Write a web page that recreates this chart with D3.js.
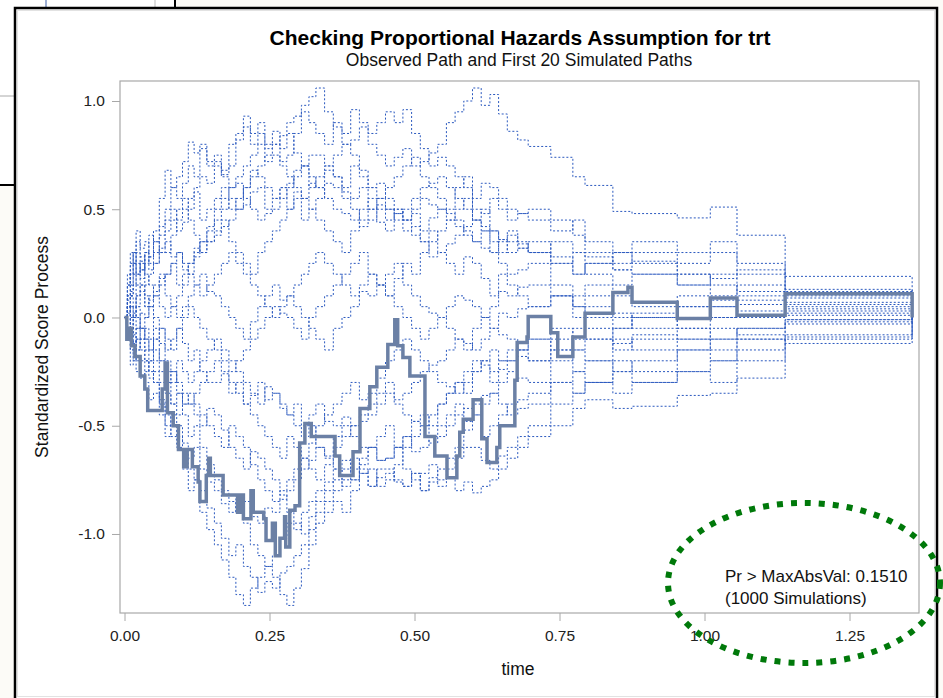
<!DOCTYPE html>
<html>
<head>
<meta charset="utf-8">
<title>PH check trt</title>
<script src="https://cdn.jsdelivr.net/npm/d3@7"></script>
<style>
  body { margin: 0; background: #fff; }
  text { font-family: "Liberation Sans", Arial, sans-serif; }
</style>
</head>
<body>
<script>
// observed score process (step times / values)
const obsTime = [0, 0.004, 0.008, 0.012, 0.018, 0.027, 0.035, 0.040, 0.065, 0.070,
  0.074, 0.084, 0.093, 0.102, 0.108, 0.117, 0.127, 0.130, 0.141, 0.145,
  0.148, 0.170, 0.195, 0.200, 0.205, 0.218, 0.222, 0.240, 0.244, 0.255,
  0.260, 0.268, 0.276, 0.278, 0.285, 0.294, 0.302, 0.311, 0.322, 0.363,
  0.371, 0.394, 0.406, 0.423, 0.435, 0.454, 0.466, 0.471, 0.480, 0.492,
  0.518, 0.535, 0.556, 0.573, 0.578, 0.584, 0.601, 0.616, 0.625, 0.642,
  0.647, 0.673, 0.677, 0.694, 0.696, 0.735, 0.747, 0.773, 0.794, 0.842,
  0.868, 0.875, 0.953, 1.010, 1.056, 1.139, 1.358]
const obsVal = [0, -0.10, -0.05, -0.13, -0.18, -0.27, -0.33, -0.43, -0.33, -0.21,
  -0.44, -0.50, -0.61, -0.69, -0.61, -0.69, -0.76, -0.85, -0.73, -0.65,
  -0.73, -0.82, -0.90, -0.82, -0.93, -0.80, -0.90, -0.93, -1.03, -0.95,
  -1.10, -1.02, -0.92, -1.06, -0.89, -0.87, -0.58, -0.49, -0.55, -0.64,
  -0.73, -0.62, -0.42, -0.32, -0.23, -0.125, -0.01, -0.13, -0.185, -0.27,
  -0.55, -0.64, -0.74, -0.64, -0.53, -0.47, -0.38, -0.56, -0.67, -0.60,
  -0.50, -0.29, -0.115, -0.09, 0.005, -0.07, -0.18, -0.09, 0.02, 0.115,
  0.14, 0.07, -0.005, 0.09, 0.01, 0.11, 0]

// time grid for the simulated paths
const simTime = [0, 0.005, 0.01, 0.015, 0.02, 0.027, 0.035, 0.042, 0.05, 0.06,
  0.07, 0.08, 0.09, 0.1, 0.11, 0.12, 0.13, 0.142, 0.155, 0.167,
  0.18, 0.192, 0.205, 0.217, 0.23, 0.242, 0.255, 0.268, 0.28, 0.292,
  0.305, 0.318, 0.33, 0.345, 0.36, 0.375, 0.39, 0.405, 0.42, 0.435,
  0.45, 0.465, 0.48, 0.495, 0.51, 0.525, 0.54, 0.555, 0.57, 0.585,
  0.6, 0.615, 0.63, 0.645, 0.66, 0.678, 0.696, 0.735, 0.773, 0.794,
  0.842, 0.875, 0.953, 1.01, 1.056, 1.139, 1.358]

// first 20 simulated paths
const sim1 = [0, 0.08, 0.12, 0.2, 0.25, 0.18, 0.3, 0.38, 0.35, 0.42, 0.5, 0.6, 0.55, 0.62, 0.7, 0.65, 0.78, 0.7, 0.72, 0.66, 0.8, 0.85, 0.88, 0.8, 0.85, 0.78, 0.8, 0.84, 0.9, 0.93, 0.98, 1.02, 1.06, 0.95, 0.88, 0.8, 0.75, 0.68, 0.6, 0.62, 0.55, 0.5, 0.45, 0.48, 0.4, 0.46, 0.5, 0.45, 0.42, 0.38, 0.35, 0.4, 0.3, 0.36, 0.38, 0.34, 0.3, 0.28, 0.2, 0.25, 0.22, 0.26, 0.2, 0.18, 0.22, 0.19, 0]
const sim2 = [0, -0.05, 0.05, 0.0, 0.1, 0.15, 0.05, 0.08, 0.12, 0.18, 0.2, 0.25, 0.15, 0.2, 0.25, 0.32, 0.3, 0.35, 0.38, 0.42, 0.45, 0.5, 0.52, 0.58, 0.6, 0.5, 0.55, 0.6, 0.62, 0.68, 0.7, 0.6, 0.65, 0.7, 0.75, 0.8, 0.82, 0.88, 0.8, 0.75, 0.7, 0.74, 0.78, 0.7, 0.72, 0.76, 0.8, 0.9, 0.95, 1.0, 1.06, 0.98, 1.03, 0.94, 0.86, 0.82, 0.79, 0.74, 0.65, 0.61, 0.49, 0.48, 0.46, 0.51, 0.38, 0.13, 0]
const sim3 = [0, -0.05, -0.1, -0.15, -0.2, -0.28, -0.25, -0.2, -0.3, -0.4, -0.5, -0.55, -0.6, -0.7, -0.8, -0.75, -0.9, -0.98, -1.05, -1.12, -1.2, -1.28, -1.33, -1.25, -1.2, -1.15, -1.1, -1.02, -0.95, -0.98, -0.9, -0.85, -0.8, -0.76, -0.7, -0.78, -0.75, -0.68, -0.6, -0.55, -0.5, -0.6, -0.55, -0.48, -0.45, -0.5, -0.4, -0.35, -0.3, -0.35, -0.25, -0.2, -0.3, -0.24, -0.2, -0.15, -0.1, -0.15, -0.1, -0.05, -0.12, -0.08, -0.1, -0.05, -0.08, -0.08, 0]
const sim4 = [0, 0.05, -0.05, 0.0, 0.05, -0.05, -0.1, -0.15, -0.2, -0.25, -0.3, -0.4, -0.35, -0.45, -0.55, -0.5, -0.6, -0.68, -0.75, -0.8, -0.85, -0.9, -0.95, -1.05, -1.1, -1.15, -1.2, -1.28, -1.33, -1.25, -1.16, -1.05, -0.95, -0.9, -0.85, -0.9, -0.8, -0.72, -0.78, -0.7, -0.7, -0.75, -0.78, -0.72, -0.8, -0.74, -0.7, -0.65, -0.6, -0.52, -0.45, -0.55, -0.5, -0.45, -0.4, -0.38, -0.35, -0.3, -0.25, -0.3, -0.2, -0.25, -0.15, -0.2, -0.1, -0.12, 0]
const sim5 = [0, 0.05, 0.1, 0.15, 0.05, 0.12, 0.1, 0.05, 0.0, -0.05, -0.1, -0.15, -0.05, -0.12, -0.2, -0.15, -0.25, -0.3, -0.3, -0.26, -0.35, -0.3, -0.4, -0.36, -0.3, -0.38, -0.35, -0.42, -0.45, -0.4, -0.5, -0.45, -0.4, -0.48, -0.5, -0.46, -0.55, -0.6, -0.6, -0.66, -0.65, -0.6, -0.7, -0.75, -0.72, -0.68, -0.78, -0.74, -0.8, -0.76, -0.81, -0.78, -0.75, -0.7, -0.65, -0.6, -0.55, -0.5, -0.42, -0.38, -0.42, -0.41, -0.36, -0.35, -0.28, -0.09, 0]
const sim6 = [0, 0.1, 0.2, 0.25, 0.3, 0.22, 0.25, 0.28, 0.3, 0.38, 0.45, 0.5, 0.4, 0.44, 0.5, 0.58, 0.45, 0.5, 0.55, 0.6, 0.5, 0.55, 0.6, 0.68, 0.65, 0.6, 0.55, 0.6, 0.5, 0.55, 0.45, 0.5, 0.55, 0.62, 0.6, 0.55, 0.5, 0.42, 0.45, 0.52, 0.5, 0.45, 0.4, 0.42, 0.35, 0.28, 0.3, 0.34, 0.38, 0.42, 0.45, 0.5, 0.4, 0.36, 0.35, 0.32, 0.3, 0.35, 0.3, 0.28, 0.22, 0.2, 0.15, 0.2, 0.12, 0.1, 0]
const sim7 = [0, 0.2, 0.15, 0.3, 0.4, 0.32, 0.35, 0.28, 0.4, 0.55, 0.68, 0.6, 0.65, 0.72, 0.81, 0.76, 0.8, 0.72, 0.75, 0.68, 0.7, 0.82, 0.93, 0.85, 0.9, 0.8, 0.86, 0.78, 0.85, 0.76, 0.7, 0.65, 0.6, 0.68, 0.65, 0.58, 0.55, 0.6, 0.5, 0.44, 0.4, 0.5, 0.45, 0.38, 0.35, 0.4, 0.3, 0.25, 0.2, 0.28, 0.25, 0.18, 0.1, 0.2, 0.15, 0.1, 0.05, 0.1, 0.0, 0.05, 0.02, 0.0, 0.05, 0.08, 0.06, 0.07, 0]
const sim8 = [0, -0.1, -0.22, -0.15, -0.25, -0.2, -0.3, -0.38, -0.35, -0.45, -0.55, -0.45, -0.5, -0.58, -0.65, -0.6, -0.7, -0.76, -0.8, -0.86, -0.9, -0.82, -0.85, -0.92, -0.95, -0.88, -0.9, -0.84, -0.8, -0.75, -0.7, -0.66, -0.6, -0.64, -0.55, -0.5, -0.5, -0.45, -0.4, -0.35, -0.3, -0.38, -0.35, -0.3, -0.25, -0.22, -0.2, -0.15, -0.1, -0.12, -0.15, -0.1, -0.05, 0.02, 0.0, 0.04, 0.05, 0.1, 0.05, 0.0, -0.05, 0.02, 0.05, 0.0, 0.03, 0.03, 0]
const sim9 = [0, 0.02, 0.05, 0.0, -0.05, 0.02, 0.0, 0.05, 0.1, 0.15, 0.2, 0.25, 0.3, 0.22, 0.25, 0.3, 0.35, 0.4, 0.45, 0.5, 0.55, 0.5, 0.6, 0.65, 0.7, 0.75, 0.8, 0.72, 0.75, 0.85, 0.95, 0.9, 0.85, 0.8, 0.9, 0.85, 0.96, 0.9, 0.85, 0.9, 0.95, 0.9, 0.96, 0.85, 0.78, 0.7, 0.74, 0.7, 0.65, 0.6, 0.55, 0.62, 0.6, 0.55, 0.5, 0.48, 0.45, 0.4, 0.45, 0.35, 0.3, 0.25, 0.2, 0.15, 0.1, 0.05, 0]
const sim10 = [0, -0.08, -0.05, 0.02, 0.1, 0.15, 0.05, 0.1, 0.15, 0.2, 0.1, 0.05, 0.0, 0.05, 0.1, 0.15, 0.2, 0.12, 0.1, 0.05, 0.0, -0.05, -0.1, -0.02, 0.05, 0.1, 0.15, 0.08, 0.1, 0.05, 0.0, -0.05, -0.1, -0.15, -0.05, 0.0, 0.05, 0.12, 0.1, 0.15, 0.2, 0.25, 0.15, 0.1, 0.05, 0.02, 0.0, -0.05, -0.1, -0.15, -0.05, 0.0, 0.05, 0.12, 0.1, 0.14, 0.15, 0.1, 0.05, 0.1, 0.0, -0.05, 0.0, 0.05, 0.0, 0.02, 0]
const sim11 = [0, 0.05, 0.1, 0.05, 0.0, -0.05, -0.1, -0.15, -0.05, -0.12, -0.2, -0.25, -0.3, -0.35, -0.4, -0.45, -0.5, -0.42, -0.45, -0.52, -0.6, -0.65, -0.7, -0.62, -0.65, -0.7, -0.75, -0.82, -0.9, -0.95, -1.0, -0.92, -0.85, -0.8, -0.75, -0.7, -0.65, -0.72, -0.7, -0.78, -0.75, -0.68, -0.6, -0.55, -0.5, -0.58, -0.55, -0.5, -0.45, -0.42, -0.4, -0.36, -0.35, -0.4, -0.45, -0.42, -0.4, -0.3, -0.35, -0.3, -0.25, -0.3, -0.25, -0.2, -0.15, -0.03, 0]
const sim12 = [0, 0.15, 0.25, 0.3, 0.2, 0.26, 0.3, 0.22, 0.25, 0.32, 0.4, 0.45, 0.5, 0.55, 0.45, 0.38, 0.3, 0.35, 0.4, 0.45, 0.35, 0.3, 0.25, 0.2, 0.3, 0.35, 0.4, 0.45, 0.5, 0.58, 0.55, 0.5, 0.45, 0.4, 0.35, 0.3, 0.4, 0.45, 0.5, 0.55, 0.6, 0.65, 0.7, 0.74, 0.65, 0.6, 0.55, 0.5, 0.6, 0.65, 0.5, 0.48, 0.55, 0.5, 0.45, 0.48, 0.5, 0.45, 0.38, 0.3, 0.25, 0.3, 0.25, 0.3, 0.2, 0.12, 0]
const sim13 = [0, -0.08, -0.15, -0.2, -0.1, -0.15, -0.2, -0.28, -0.25, -0.3, -0.35, -0.4, -0.45, -0.4, -0.35, -0.4, -0.45, -0.5, -0.55, -0.6, -0.5, -0.55, -0.6, -0.68, -0.75, -0.8, -0.85, -0.8, -0.75, -0.7, -0.65, -0.58, -0.5, -0.45, -0.4, -0.35, -0.3, -0.38, -0.35, -0.28, -0.2, -0.15, -0.1, -0.15, -0.2, -0.25, -0.3, -0.32, -0.35, -0.3, -0.25, -0.2, -0.15, -0.2, -0.2, -0.15, -0.1, -0.05, -0.15, -0.2, -0.25, -0.2, -0.15, -0.1, -0.05, -0.02, 0]
const sim14 = [0, 0.05, 0.0, -0.08, -0.15, -0.1, -0.2, -0.25, -0.3, -0.38, -0.45, -0.5, -0.55, -0.62, -0.7, -0.75, -0.8, -0.88, -0.95, -1.02, -1.1, -1.05, -1.15, -1.2, -1.27, -1.22, -1.25, -1.18, -1.15, -1.1, -1.05, -0.98, -0.9, -0.85, -0.8, -0.75, -0.7, -0.65, -0.6, -0.66, -0.65, -0.6, -0.55, -0.62, -0.6, -0.55, -0.5, -0.45, -0.4, -0.48, -0.45, -0.4, -0.35, -0.3, -0.25, -0.28, -0.3, -0.2, -0.15, -0.1, -0.15, -0.1, -0.05, -0.1, -0.05, -0.01, 0]
const sim15 = [0, 0.05, 0.1, 0.15, 0.2, 0.25, 0.15, 0.2, 0.25, 0.3, 0.35, 0.28, 0.3, 0.25, 0.2, 0.15, 0.1, 0.15, 0.2, 0.25, 0.3, 0.25, 0.2, 0.15, 0.1, 0.05, 0.0, 0.05, 0.1, 0.15, 0.2, 0.25, 0.3, 0.25, 0.2, 0.15, 0.1, 0.15, 0.2, 0.15, 0.1, 0.18, 0.25, 0.2, 0.3, 0.35, 0.4, 0.45, 0.5, 0.55, 0.45, 0.4, 0.35, 0.3, 0.4, 0.35, 0.3, 0.25, 0.2, 0.25, 0.3, 0.35, 0.3, 0.35, 0.25, 0.09, 0]
const sim16 = [0, -0.05, -0.1, -0.05, -0.15, -0.1, -0.05, -0.1, -0.15, -0.2, -0.25, -0.3, -0.2, -0.25, -0.3, -0.25, -0.2, -0.15, -0.1, -0.15, -0.2, -0.25, -0.3, -0.35, -0.4, -0.32, -0.35, -0.4, -0.45, -0.5, -0.55, -0.5, -0.6, -0.65, -0.7, -0.66, -0.75, -0.7, -0.78, -0.74, -0.72, -0.76, -0.78, -0.72, -0.8, -0.76, -0.75, -0.7, -0.65, -0.6, -0.6, -0.66, -0.7, -0.64, -0.6, -0.55, -0.5, -0.4, -0.35, -0.3, -0.35, -0.3, -0.25, -0.3, -0.2, -0.1, 0]
const sim17 = [0, 0.15, 0.3, 0.25, 0.35, 0.28, 0.2, 0.15, 0.1, 0.05, 0.0, 0.05, 0.1, 0.15, 0.2, 0.28, 0.35, 0.42, 0.5, 0.55, 0.6, 0.62, 0.55, 0.5, 0.45, 0.48, 0.5, 0.55, 0.6, 0.65, 0.7, 0.75, 0.75, 0.7, 0.65, 0.6, 0.7, 0.65, 0.6, 0.55, 0.5, 0.48, 0.45, 0.5, 0.55, 0.52, 0.5, 0.48, 0.45, 0.4, 0.35, 0.32, 0.3, 0.25, 0.2, 0.22, 0.25, 0.15, 0.1, 0.15, 0.1, 0.05, 0.1, 0.05, 0.08, 0.06, 0]
const sim18 = [0, 0.05, -0.05, -0.12, -0.1, -0.05, 0.0, 0.05, -0.1, -0.05, -0.15, -0.1, -0.05, 0.0, 0.05, 0.0, -0.05, -0.1, -0.15, -0.2, -0.25, -0.2, -0.15, -0.1, -0.05, 0.0, 0.05, 0.02, 0.0, -0.05, -0.1, 0.0, 0.05, 0.1, 0.15, 0.2, 0.25, 0.3, 0.2, 0.15, 0.1, 0.05, 0.0, -0.05, -0.1, -0.05, 0.0, 0.05, 0.1, 0.08, 0.05, 0.0, -0.05, -0.08, -0.1, -0.15, -0.2, -0.15, -0.25, -0.2, -0.1, -0.15, -0.1, -0.15, -0.1, -0.01, 0]
const sim19 = [0, 0.1, 0.2, 0.25, 0.15, 0.22, 0.3, 0.25, 0.35, 0.3, 0.3, 0.38, 0.45, 0.5, 0.55, 0.6, 0.65, 0.62, 0.7, 0.65, 0.6, 0.65, 0.7, 0.75, 0.8, 0.72, 0.75, 0.7, 0.65, 0.6, 0.55, 0.62, 0.6, 0.55, 0.5, 0.48, 0.45, 0.5, 0.55, 0.5, 0.45, 0.48, 0.5, 0.55, 0.6, 0.62, 0.65, 0.6, 0.55, 0.5, 0.45, 0.42, 0.4, 0.35, 0.3, 0.32, 0.35, 0.25, 0.3, 0.2, 0.15, 0.2, 0.15, 0.1, 0.15, 0.04, 0]
const sim20 = [0, -0.05, -0.1, -0.15, -0.05, -0.1, -0.15, -0.2, -0.1, -0.2, -0.3, -0.25, -0.35, -0.4, -0.4, -0.35, -0.3, -0.25, -0.2, -0.25, -0.3, -0.35, -0.4, -0.45, -0.5, -0.55, -0.6, -0.65, -0.55, -0.6, -0.65, -0.7, -0.75, -0.68, -0.6, -0.55, -0.5, -0.48, -0.45, -0.4, -0.35, -0.4, -0.45, -0.48, -0.5, -0.45, -0.4, -0.35, -0.3, -0.25, -0.2, -0.22, -0.25, -0.2, -0.15, -0.18, -0.2, -0.1, -0.05, -0.1, -0.05, 0.0, -0.05, 0.0, 0.01, 0.01, 0]
const simPaths = [sim1, sim2, sim3, sim4, sim5, sim6, sim7, sim8, sim9, sim10,
  sim11, sim12, sim13, sim14, sim15, sim16, sim17, sim18, sim19, sim20]

const xTicks = [0, 0.25, 0.5, 0.75, 1.0, 1.25]
const yTicks = [-1.0, -0.5, 0.0, 0.5, 1.0]

var w = 943, h = 698
var svg = d3.select("body").append("svg").attr("width", w).attr("height", h)

// bits of the surrounding window in the screenshot
svg.append("rect").attr("x", 0).attr("y", 0).attr("width", w).attr("height", h).attr("fill", "#fcfbf7")
svg.append("rect").attr("x", 0).attr("y", 0).attr("width", 175).attr("height", 8).attr("fill", "#fff")
svg.append("rect").attr("x", 0).attr("y", 0).attr("width", 15).attr("height", 185).attr("fill", "#fff")
svg.append("line").attr("x1", 46).attr("x2", 46).attr("y1", 0).attr("y2", 8).attr("stroke", "#3c5ea8")
svg.append("line").attr("x1", 155).attr("x2", 155).attr("y1", 0).attr("y2", 8).attr("stroke", "#bbb")
svg.append("line").attr("x1", 175).attr("x2", 175).attr("y1", 0).attr("y2", 8).attr("stroke", "#000").attr("stroke-width", 2)
svg.append("line").attr("x1", 0).attr("x2", 15).attr("y1", 96).attr("y2", 96).attr("stroke", "#aaa")
svg.append("line").attr("x1", 0).attr("x2", 15).attr("y1", 185).attr("y2", 185).attr("stroke", "#000").attr("stroke-width", 2)

// graph frame
svg.append("rect").attr("x", 15).attr("y", 8).attr("width", 922).attr("height", 694)
  .attr("fill", "#fff").attr("stroke", "#000").attr("stroke-width", 2.5)
svg.append("rect").attr("x", 17.5).attr("y", 10.5).attr("width", 917).attr("height", 686)
  .attr("fill", "none").attr("stroke", "#e2e2e2")

// plot area
var pLeft = 120, pRight = 919, pTop = 81, pBottom = 613
var xScale = d3.scaleLinear().domain([-0.00776, 1.3698]).range([pLeft, pRight])
var yScale = d3.scaleLinear().domain([-1.365, 1.0924]).range([pBottom, pTop])

svg.append("defs").append("clipPath").attr("id", "clip")
  .append("rect").attr("x", pLeft).attr("y", pTop).attr("width", pRight - pLeft).attr("height", pBottom - pTop)

var stepLine = function(times) {
  return d3.line()
    .x(function(d, i) { return xScale(times[i]) })
    .y(function(d) { return yScale(d) })
    .curve(d3.curveStepAfter)
}

var paths = svg.append("g").attr("clip-path", "url(#clip)")
paths.selectAll(".sim").data(simPaths).enter().append("path")
  .attr("class", "sim")
  .attr("d", stepLine(simTime))
  .attr("fill", "none")
  .attr("stroke", "#2b59bf")
  .attr("stroke-width", 1)
  .attr("stroke-dasharray", "2,2")

paths.append("path").datum(obsVal)
  .attr("d", stepLine(obsTime))
  .attr("fill", "none")
  .attr("stroke", "#6b80a5")
  .attr("stroke-width", 3.5)

// frame
svg.append("rect").attr("x", pLeft).attr("y", pTop).attr("width", pRight - pLeft).attr("height", pBottom - pTop)
  .attr("fill", "none").attr("stroke", "#a8a8a8").attr("stroke-width", 1.2)

// axes (plain hyphen for negatives, like the original)
var yAxis = svg.append("g").attr("transform", "translate(" + pLeft + ",0)")
  .call(d3.axisLeft(yScale).tickValues(yTicks).tickFormat(function(d) { return d.toFixed(1) }).tickSize(8).tickPadding(7))
var xAxis = svg.append("g").attr("transform", "translate(0," + pBottom + ")")
  .call(d3.axisBottom(xScale).tickValues(xTicks).tickFormat(function(d) { return d.toFixed(2) }).tickSize(8).tickPadding(9))
;[yAxis, xAxis].forEach(function(a) {
  a.select(".domain").remove()
  a.selectAll("line").attr("stroke", "#a8a8a8")
  a.selectAll("text").attr("font-size", 15.5).attr("fill", "#222")
    .style("font-family", '"Liberation Sans", Arial, sans-serif')
})

// titles and labels
svg.append("text").attr("x", 520).attr("y", 45).attr("text-anchor", "middle")
  .attr("font-size", 21).attr("font-weight", "bold").attr("fill", "#000")
  .text("Checking Proportional Hazards Assumption for trt")
svg.append("text").attr("x", 519).attr("y", 66).attr("text-anchor", "middle")
  .attr("font-size", 17.5).attr("fill", "#111")
  .text("Observed Path and First 20 Simulated Paths")
svg.append("text").attr("x", 518).attr("y", 675).attr("text-anchor", "middle")
  .attr("font-size", 17.5).attr("fill", "#111").text("time")
svg.append("text").attr("transform", "translate(48," + ((pTop + pBottom) / 2) + ") rotate(-90)")
  .attr("text-anchor", "middle").attr("font-size", 17.5).attr("fill", "#111")
  .text("Standardized Score Process")

// inset
svg.append("text").attr("x", 725).attr("y", 582).attr("font-size", 17).attr("fill", "#111")
  .text("Pr > MaxAbsVal: 0.1510")
svg.append("text").attr("x", 725).attr("y", 604).attr("font-size", 17).attr("fill", "#111")
  .text("(1000 Simulations)")

// green dotted annotation ring
svg.append("ellipse").attr("cx", 804).attr("cy", 583).attr("rx", 136).attr("ry", 80)
  .attr("fill", "none").attr("stroke", "#00790a").attr("stroke-width", 6)
  .attr("stroke-dasharray", "6,8")
</script>
</body>
</html>
